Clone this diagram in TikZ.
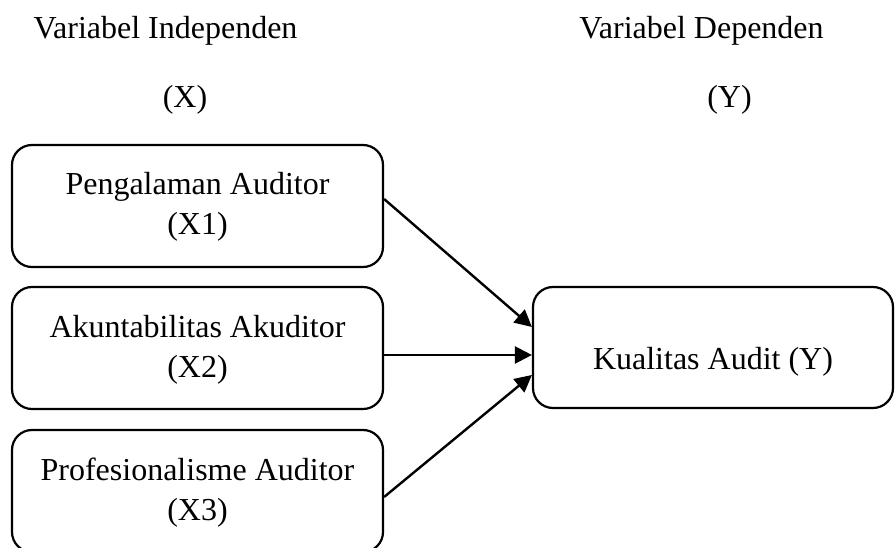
\documentclass[tikz,border=0pt]{standalone}
\usepackage{fontspec}
\setmainfont{Liberation Serif}
\usetikzlibrary{arrows.meta}
\begin{document}
\begin{tikzpicture}[x=1pt,y=-1pt,
  every node/.style={font=\fontsize{32}{40}\selectfont},
  varbox/.style={draw, line width=2.2pt, rounded corners=20pt,
    minimum width=371pt, minimum height=122pt, inner sep=0pt},
  boxtext/.style={align=center, inner sep=0pt},
  heading/.style={anchor=base, inner sep=0pt},
  link/.style={line width=2.4pt, -{Triangle[length=17pt,width=17pt]}}]
\useasboundingbox (0,0) rectangle (895,548);

% headings
\node[heading] (hx)  at (165.5,39)  {Variabel Independen};
\node[heading] (hxs) at (185,108)   {(X)};
\node[heading] (hy)  at (701.5,39)  {Variabel Dependen};
\node[heading] (hys) at (729.5,108) {(Y)};

% independent variables
\node[varbox] (b1) at (197.5,206) {};
\node[varbox] (b2) at (197.5,348) {};
\node[varbox] (b3) at (197.5,491) {};
\node[boxtext] (t1) at ([yshift=-63pt]b1.north) {Pengalaman Auditor\\(X1)};
\node[boxtext] (t2) at ([yshift=-64pt]b2.north) {Akuntabilitas Akuditor\\(X2)};
\node[boxtext] (t3) at ([yshift=-64pt]b3.north) {Profesionalisme Auditor\\(X3)};

% dependent variable
\node[varbox, minimum width=360pt, minimum height=121pt] (by) at (713,347.5) {};
\node[boxtext] (ty) at ([yshift=-14pt]by.center) {Kualitas Audit (Y)};

% influences
\draw[link] ([yshift=7pt]b1.east)  -- ([yshift=20.5pt]by.west);
\draw[link] ([yshift=-7pt]b2.east) -- ([yshift=-7.5pt]by.west);
\draw[link] ([yshift=-6pt]b3.east) -- ([yshift=-27.5pt]by.west);
\end{tikzpicture}
\end{document}
